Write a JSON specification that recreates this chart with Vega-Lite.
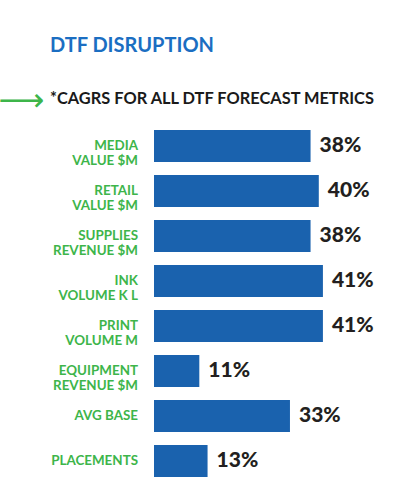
{
  "$schema": "https://vega.github.io/schema/vega-lite/v6.json",
  "width": 206,
  "height": 360,
  "autosize": {"type": "none"},
  "padding": {"left": 154, "top": 123.5, "right": 36, "bottom": 10.5},
  "background": "white",
  "config": {"view": {"stroke": null}},
  "title": {
    "text": "DTF DISRUPTION",
    "subtitle": "*CAGRS FOR ALL DTF FORECAST METRICS",
    "anchor": "start",
    "frame": "group",
    "dx": -104,
    "dy": 33,
    "font": "Lato",
    "fontSize": 20,
    "fontWeight": "bold",
    "color": "#1b6ec2",
    "subtitleFont": "Lato",
    "subtitleFontSize": 16.4,
    "subtitleFontWeight": "bold",
    "subtitleColor": "#1a1a1a",
    "subtitlePadding": 35,
    "offset": 10
  },
  "data": {
    "values": [
      {"metric": "MEDIA\nVALUE $M", "cagr": 0.38},
      {"metric": "RETAIL\nVALUE $M", "cagr": 0.40},
      {"metric": "SUPPLIES\nREVENUE $M", "cagr": 0.38},
      {"metric": "INK\nVOLUME K L", "cagr": 0.41},
      {"metric": "PRINT\nVOLUME M", "cagr": 0.41},
      {"metric": "EQUIPMENT\nREVENUE $M", "cagr": 0.11},
      {"metric": "AVG BASE", "cagr": 0.33},
      {"metric": "PLACEMENTS", "cagr": 0.13}
    ]
  },
  "encoding": {
    "y": {
      "field": "metric",
      "type": "nominal",
      "sort": null,
      "axis": null,
      "scale": {"paddingInner": 0.289, "paddingOuter": 0.144}
    }
  },
  "layer": [
    {
      "mark": {"type": "bar", "color": "#1a62ae"},
      "encoding": {
        "x": {
          "field": "cagr",
          "type": "quantitative",
          "scale": {"domain": [0, 0.5]},
          "axis": {
            "orient": "top",
            "labels": false,
            "ticks": false,
            "domain": false,
            "grid": false,
            "title": "⟶",
            "titleColor": "#3db54a",
            "titleFont": "DejaVu Sans",
            "titleFontSize": 32,
            "titleFontWeight": "normal",
            "titleAlign": "center",
            "titleBaseline": "middle",
            "titleX": -133,
            "titleY": -23.5
          }
        }
      }
    },
    {
      "mark": {"type": "text", "align": "left", "baseline": "middle", "dx": 9, "font": "Lato", "fontSize": 21, "fontWeight": 900, "color": "#231f20"},
      "encoding": {
        "x": {"field": "cagr", "type": "quantitative"},
        "text": {"field": "cagr", "type": "quantitative", "format": ".0%"}
      }
    },
    {
      "mark": {"type": "text", "align": "right", "baseline": "middle", "dx": -16, "lineBreak": "\n", "lineHeight": 15, "font": "Lato", "fontSize": 13.4, "fontWeight": "bold", "color": "#3db54a"},
      "encoding": {
        "x": {"datum": 0},
        "text": {"field": "metric"}
      }
    }
  ]
}
